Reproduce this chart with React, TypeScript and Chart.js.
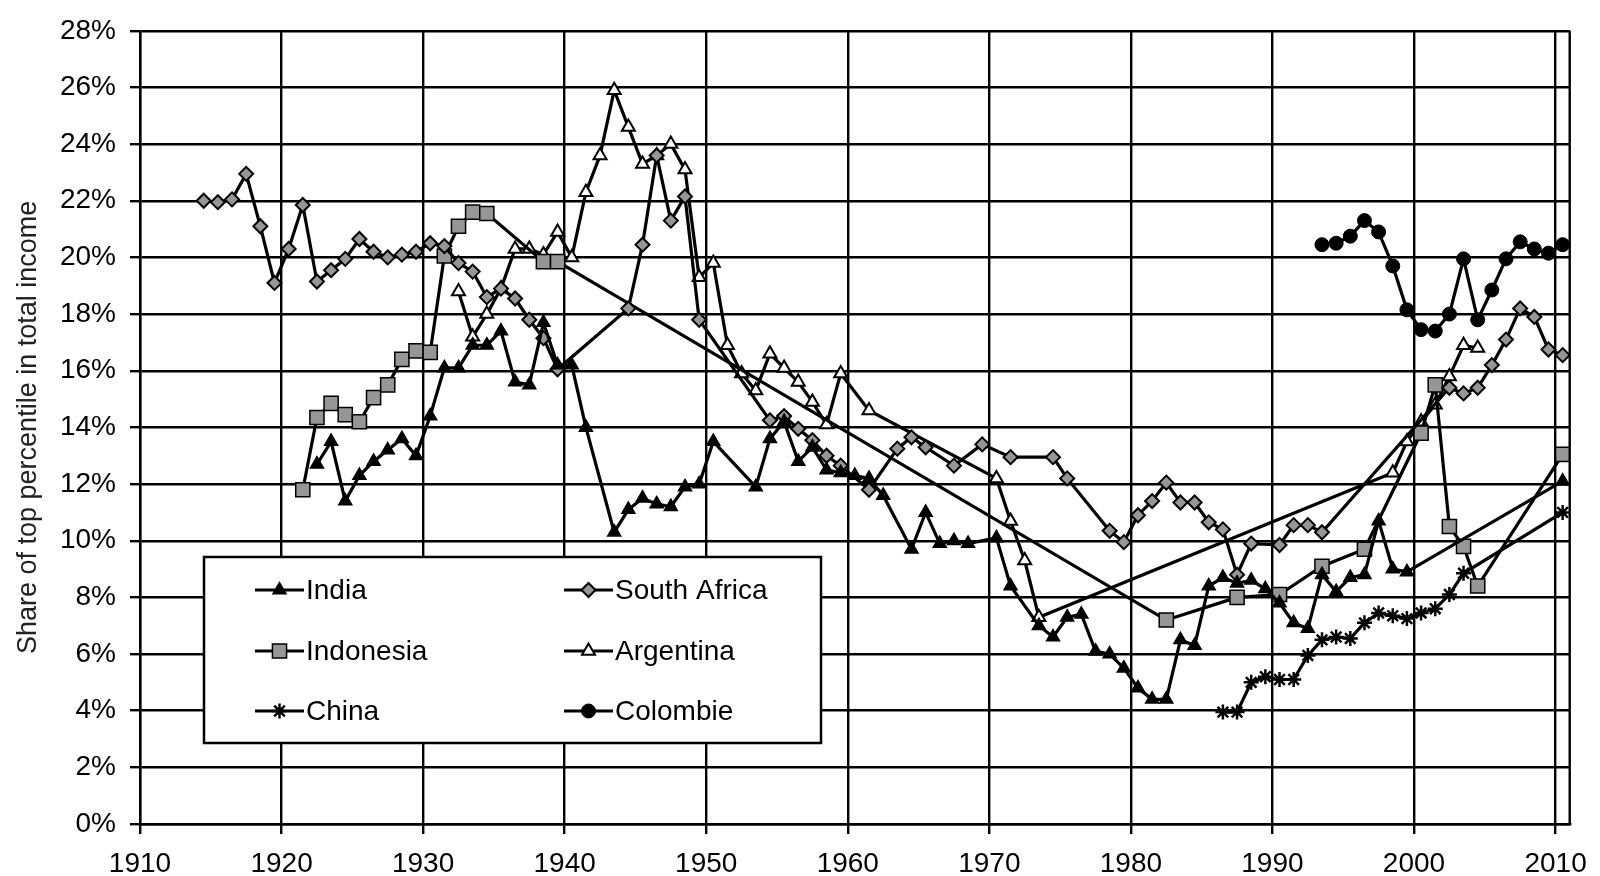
import React, { useEffect, useRef } from 'react';
import { Chart, registerables } from 'chart.js';
import { drawPoint } from 'chart.js/helpers';

Chart.register(...registerables);

// ---------- data (share of top 1% in total income, %) ----------
const indiaYears = [1922, 1923, 1924, 1925, 1926, 1927, 1928, 1929, 1930, 1931, 1932, 1933, 1934, 1935, 1936, 1937, 1938, 1939, 1940, 1941, 1943, 1944, 1945, 1946, 1947, 1948, 1949, 1950, 1953, 1954, 1955, 1956, 1957, 1958, 1959, 1960, 1961, 1962, 1964, 1965, 1966, 1967, 1968, 1970, 1971, 1973, 1974, 1975, 1976, 1977, 1978, 1979, 1980, 1981, 1982, 1983, 1984, 1985, 1986, 1987, 1988, 1989, 1990, 1991, 1992, 1993, 1994, 1995, 1996, 1997, 1998, 1999, 2010];
const indiaValues = [12.7, 13.5, 11.4, 12.3, 12.8, 13.2, 13.6, 13.0, 14.4, 16.1, 16.1, 16.9, 16.9, 17.4, 15.6, 15.5, 17.7, 16.2, 16.2, 14.0, 10.3, 11.1, 11.5, 11.3, 11.2, 11.9, 12.0, 13.5, 11.9, 13.6, 14.2, 12.8, 13.3, 12.5, 12.4, 12.3, 12.2, 11.6, 9.7, 11.0, 9.9, 10.0, 9.9, 10.1, 8.4, 7.0, 6.6, 7.3, 7.4, 6.1, 6.0, 5.5, 4.8, 4.4, 4.4, 6.5, 6.3, 8.4, 8.7, 8.5, 8.6, 8.3, 7.8, 7.1, 6.9, 8.8, 8.2, 8.7, 8.8, 10.7, 9.0, 8.9, 12.1];

const southAfricaYears = [1914, 1915, 1916, 1917, 1918, 1919, 1920, 1921, 1922, 1923, 1924, 1925, 1926, 1927, 1928, 1929, 1930, 1931, 1932, 1933, 1934, 1935, 1936, 1937, 1938, 1939, 1944, 1945, 1946, 1947, 1948, 1949, 1954, 1955, 1956, 1957, 1958, 1959, 1961, 1963, 1964, 1965, 1967, 1969, 1971, 1974, 1975, 1978, 1979, 1980, 1981, 1982, 1983, 1984, 1985, 1986, 1987, 1988, 1990, 1991, 1992, 1993, 2002, 2003, 2004, 2005, 2006, 2007, 2008, 2009, 2010];
const southAfricaValues = [22.0, 21.95, 22.05, 22.95, 21.1, 19.1, 20.3, 21.85, 19.15, 19.55, 19.95, 20.65, 20.2, 20.0, 20.1, 20.2, 20.5, 20.4, 19.8, 19.5, 18.6, 18.9, 18.55, 17.8, 17.15, 16.05, 18.2, 20.45, 23.6, 21.3, 22.15, 17.8, 14.25, 14.4, 13.95, 13.55, 13.0, 12.65, 11.8, 13.25, 13.65, 13.3, 12.65, 13.4, 12.95, 12.95, 12.2, 10.35, 9.95, 10.9, 11.4, 12.05, 11.35, 11.35, 10.65, 10.4, 8.8, 9.9, 9.85, 10.55, 10.55, 10.3, 15.4, 15.2, 15.4, 16.2, 17.1, 18.2, 17.9, 16.75, 16.55];

const indonesiaYears = [1921, 1922, 1923, 1924, 1925, 1926, 1927, 1928, 1929, 1930, 1931, 1932, 1933, 1934, 1938, 1939, 1982, 1987, 1990, 1993, 1996, 2000, 2001, 2002, 2003, 2004, 2010];
const indonesiaValues = [11.8, 14.35, 14.85, 14.45, 14.2, 15.05, 15.5, 16.4, 16.7, 16.65, 20.05, 21.1, 21.6, 21.55, 19.85, 19.85, 7.2, 8.0, 8.1, 9.1, 9.7, 13.8, 15.5, 10.5, 9.8, 8.4, 13.05];

const argentinaYears = [1932, 1933, 1934, 1935, 1936, 1937, 1938, 1939, 1940, 1941, 1942, 1943, 1944, 1945, 1946, 1947, 1948, 1949, 1950, 1951, 1952, 1953, 1954, 1955, 1956, 1957, 1958, 1959, 1961, 1970, 1971, 1972, 1973, 1998, 1999, 2000, 2001, 2002, 2003, 2004];
const argentinaValues = [18.8, 17.2, 18.0, 18.9, 20.3, 20.3, 20.1, 20.9, 20.0, 22.3, 23.6, 25.9, 24.6, 23.3, 23.6, 24.0, 23.1, 19.3, 19.8, 16.9, 15.9, 15.3, 16.6, 16.1, 15.6, 14.9, 14.1, 15.9, 14.6, 12.2, 10.7, 9.3, 7.3, 12.4, 13.5, 14.2, 14.8, 15.8, 16.9, 16.8];

const chinaYears = [1986, 1987, 1988, 1989, 1990, 1991, 1992, 1993, 1994, 1995, 1996, 1997, 1998, 1999, 2000, 2001, 2002, 2003, 2010];
const chinaValues = [3.95, 3.95, 5.0, 5.2, 5.1, 5.1, 5.95, 6.5, 6.6, 6.55, 7.1, 7.45, 7.35, 7.25, 7.45, 7.6, 8.1, 8.85, 11.0];

const colombiaYears = [1993, 1994, 1995, 1996, 1997, 1998, 1999, 2000, 2001, 2002, 2003, 2004, 2005, 2006, 2007, 2008, 2009, 2010];
const colombiaValues = [20.45, 20.5, 20.75, 21.3, 20.9, 19.7, 18.15, 17.45, 17.4, 18.0, 19.95, 17.8, 18.85, 19.95, 20.55, 20.3, 20.15, 20.45];

const seriesNames = ['India', 'South Africa', 'Indonesia', 'Argentina', 'China', 'Colombie'];
const yAxisTitle = 'Share of top percentile in total income';
const xMin = 1910;
const xMax = 2011;
const xStep = 10;
const yMin = 0;
const yMax = 28;
const yStep = 2;

// Each year occupies a one-year band on the axis; points sit in the middle of their band.
const BAND_CENTRE = 0.5;

const FONT = '"Liberation Sans", Arial, Helvetica, sans-serif';
const GREY = '#969696';

const toPoints = (years: number[], values: number[]) =>
  years.map((yr, i) => ({ x: yr + BAND_CENTRE, y: values[i] }));

const styles = [
  { pointStyle: 'triangle', radius: 7.5, bg: '#000', bw: 1.5 },
  { pointStyle: 'rectRot', radius: 7, bg: GREY, bw: 2 },
  { pointStyle: 'rect', radius: 10, bg: GREY, bw: 1.5 },
  { pointStyle: 'triangle', radius: 7.5, bg: '#fff', bw: 2 },
  { pointStyle: 'star', radius: 7.5, bg: '#000', bw: 2.5 },
  { pointStyle: 'circle', radius: 7, bg: '#000', bw: 1 },
];

const frameAndLegend = {
  id: 'frameAndLegend',
  afterDraw(chart: any) {
    const { ctx, chartArea } = chart;
    ctx.save();
    // right frame edge
    ctx.strokeStyle = '#000';
    ctx.lineWidth = 2.4;
    ctx.beginPath();
    ctx.moveTo(chartArea.right, chartArea.top);
    ctx.lineTo(chartArea.right, chartArea.bottom);
    ctx.stroke();

    // legend box
    const bx = 204, by = 557, bw = 617, bh = 186;
    ctx.fillStyle = '#fff';
    ctx.fillRect(bx, by, bw, bh);
    ctx.lineWidth = 2.5;
    ctx.strokeRect(bx, by, bw, bh);

    const cols = [255, 564];
    const rows = [590, 651, 711];
    const lineLen = 49;
    ctx.font = `28px ${FONT}`;
    ctx.textBaseline = 'middle';
    ctx.textAlign = 'left';
    chart.data.datasets.forEach((ds: any, i: number) => {
      const x = cols[i % 2];
      const y = rows[Math.floor(i / 2)];
      ctx.strokeStyle = '#000';
      ctx.lineWidth = 3.2;
      ctx.beginPath();
      ctx.moveTo(x, y);
      ctx.lineTo(x + lineLen, y);
      ctx.stroke();
      ctx.fillStyle = ds.pointBackgroundColor;
      ctx.strokeStyle = '#000';
      ctx.lineWidth = ds.pointBorderWidth;
      drawPoint(ctx, { pointStyle: ds.pointStyle, radius: ds.pointRadius, borderWidth: ds.pointBorderWidth, rotation: 0 }, x + lineLen / 2, y);
      ctx.fillStyle = '#000';
      ctx.fillText(ds.label, x + lineLen + 2, y + 1);
    });
    ctx.restore();
  },
};

export default function App() {
  const canvasRef = useRef<HTMLCanvasElement>(null);

  useEffect(() => {
    const canvas = canvasRef.current;
    if (!canvas) return;
    const allSeries = [
      toPoints(indiaYears, indiaValues),
      toPoints(southAfricaYears, southAfricaValues),
      toPoints(indonesiaYears, indonesiaValues),
      toPoints(argentinaYears, argentinaValues),
      toPoints(chinaYears, chinaValues),
      toPoints(colombiaYears, colombiaValues),
    ];
    const datasets = allSeries.map((data, i) => ({
      label: seriesNames[i],
      data,
      borderColor: '#000',
      borderWidth: 3.2,
      backgroundColor: styles[i].bg,
      pointBackgroundColor: styles[i].bg,
      pointBorderColor: '#000',
      pointBorderWidth: styles[i].bw,
      pointStyle: styles[i].pointStyle,
      pointRadius: styles[i].radius,
      tension: 0,
      fill: false,
    }));

    const tickFont = { family: FONT, size: 28 };
    const chart = new Chart(canvas, {
      type: 'line',
      data: { datasets } as any,
      options: {
        responsive: false,
        devicePixelRatio: 1,
        animation: false,
        layout: { padding: { top: 23, right: 30, left: 0, bottom: 0 } },
        plugins: { legend: { display: false }, tooltip: { enabled: false } },
        scales: {
          x: {
            type: 'linear',
            min: xMin,
            max: xMax,
            afterFit: (s: any) => { s.height = 52; },
            ticks: {
              stepSize: xStep,
              includeBounds: false,
              padding: 13,
              color: '#000',
              font: tickFont,
              callback: (v: any) => String(v),
              maxRotation: 0,
              autoSkip: false,
            },
            grid: { color: '#000', lineWidth: 2.4, tickLength: 10, tickColor: '#000', tickWidth: 2.4 },
            border: { color: '#000', width: 2.4 },
          },
          y: {
            min: yMin,
            max: yMax,
            afterFit: (s: any) => { s.width = 140; },
            ticks: {
              stepSize: yStep,
              padding: 14,
              color: '#000',
              font: tickFont,
              callback: (v: any) => `${v}%`,
            },
            grid: { color: '#000', lineWidth: 2.4, tickLength: 10, tickColor: '#000', tickWidth: 2.4 },
            border: { color: '#000', width: 2.4 },
            title: {
              display: true,
              text: yAxisTitle,
              color: '#222',
              font: { family: FONT, size: 27 },
              padding: { top: 12, bottom: 0 },
            },
          },
        },
      },
      plugins: [frameAndLegend],
    });
    return () => chart.destroy();
  }, []);

  return (
    <div style={{ position: 'absolute', left: 0, top: 0, width: 1600, height: 876, background: '#fff' }}>
      <canvas ref={canvasRef} width={1600} height={876} style={{ display: 'block' }} />
    </div>
  );
}
